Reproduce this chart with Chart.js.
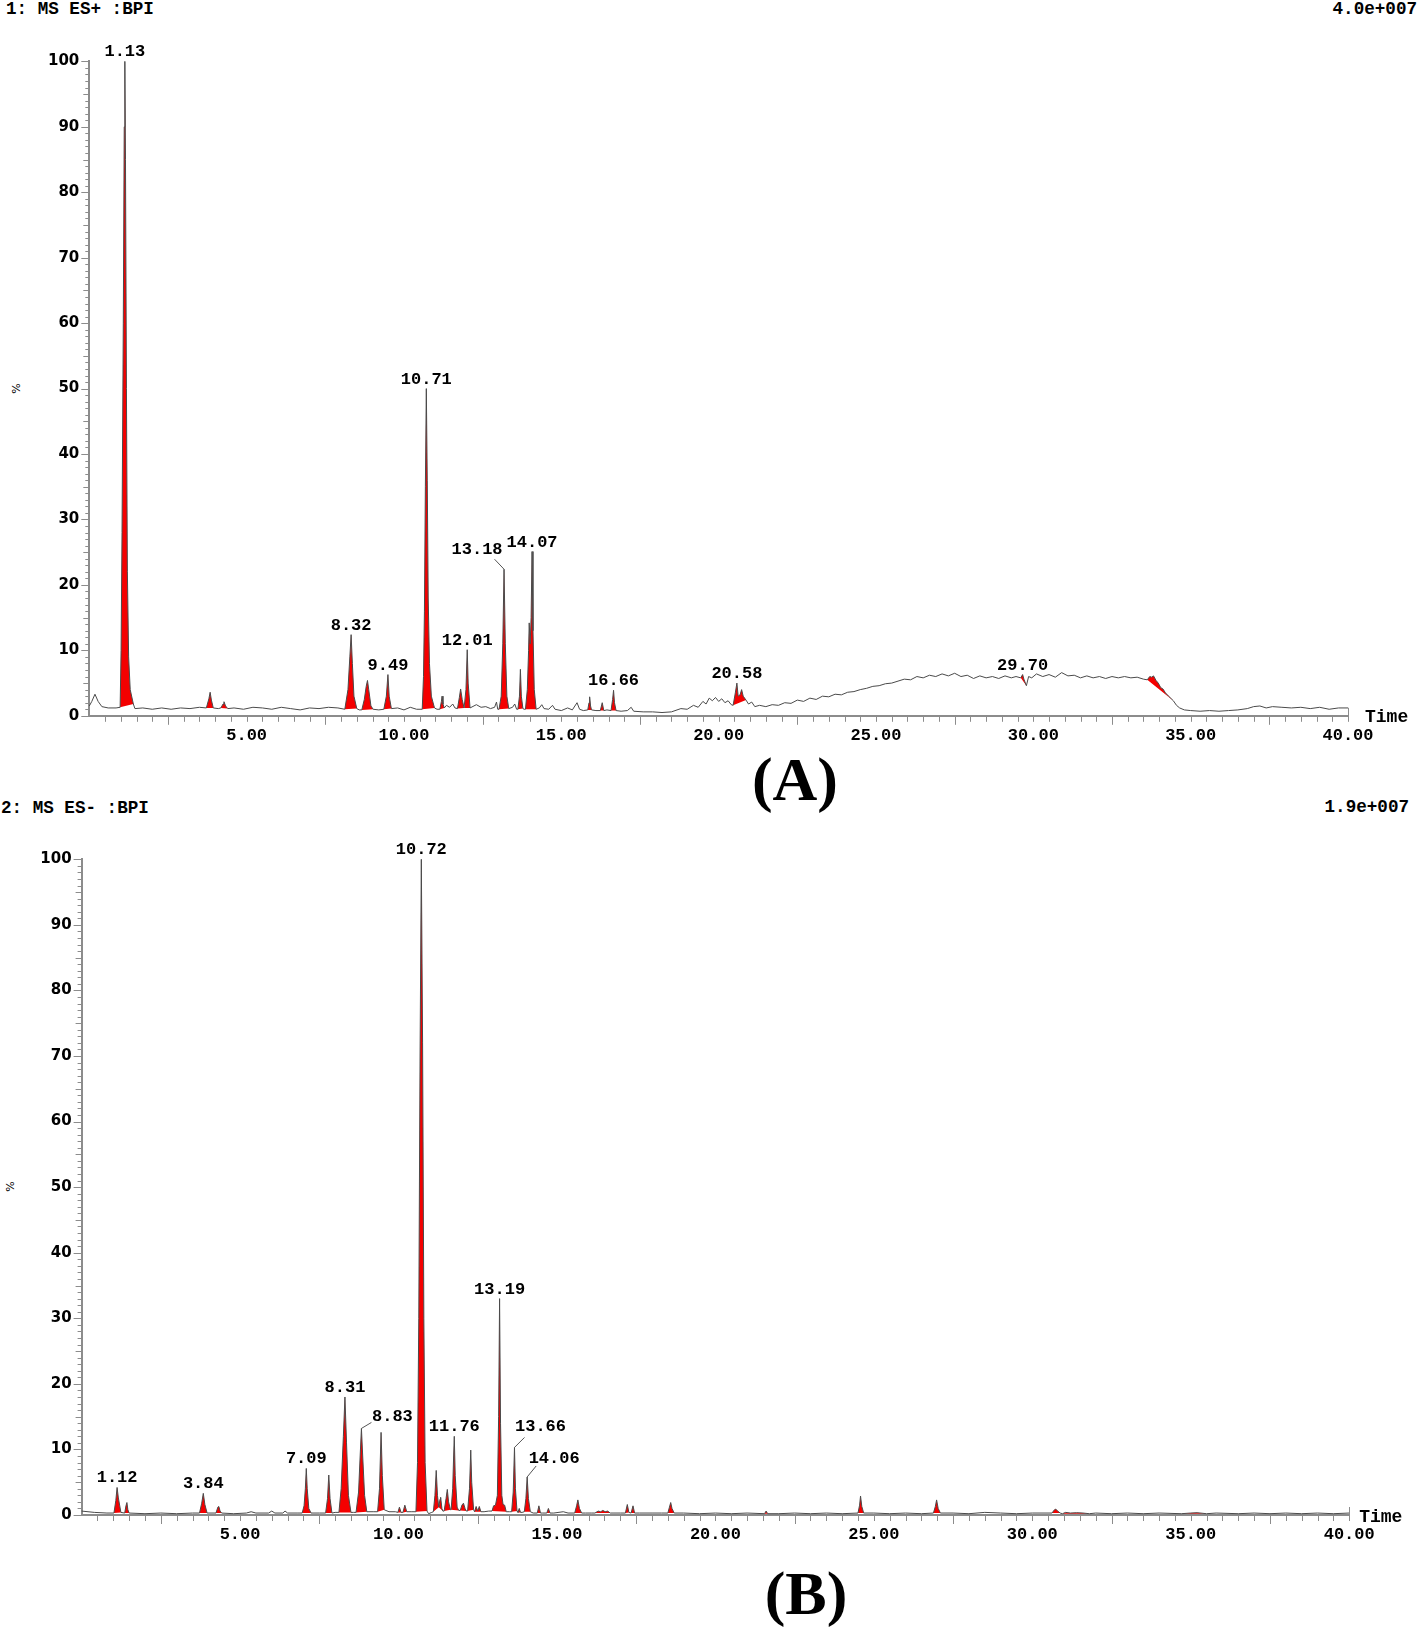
<!DOCTYPE html>
<html>
<head>
<meta charset="utf-8">
<script src="https://cdn.jsdelivr.net/npm/chart.js@4.4.1/dist/chart.umd.min.js"></script>
<style>
  body { margin: 0; background: #fff; width: 1418px; height: 1631px; position: relative; overflow: hidden; }
  canvas { position: absolute; left: 0; }
  .mono { position: absolute; font: bold 17.6px "Liberation Mono", monospace; color: #000; white-space: pre; line-height: 18px; }
  .tag { position: absolute; width: 200px; text-align: center; font: bold 62px "Liberation Serif", serif; line-height: 62px; color: #000; }
  .pct { position: absolute; font: 11px "DejaVu Sans", sans-serif; transform: rotate(-90deg); line-height: 11px; }
</style>
</head>
<body>
<div class="mono" style="left:6px;top:0px">1: MS ES+ :BPI</div>
<div class="mono" style="right:1px;top:0px">4.0e+007</div>
<div class="pct" style="left:11px;top:383px">%</div>
<canvas id="chartA" width="1418" height="760" style="top:0px"></canvas>
<div class="tag" style="left:695px;top:748px">(A)</div>

<div class="mono" style="left:1px;top:799px">2: MS ES- :BPI</div>
<div class="mono" style="right:9px;top:798px">1.9e+007</div>
<div class="pct" style="left:5px;top:1181px">%</div>
<canvas id="chartB" width="1418" height="790" style="top:780px"></canvas>
<div class="tag" style="left:706px;top:1562px">(B)</div>

<script>
// ---- panel A: MS ES+ BPI (time in min, intensity in %) ----
const baseA = [
  [0, 1.5], [0.08, 2.2], [0.18, 3.3], [0.28, 2.2], [0.4, 1.4], [0.6, 1.2], [0.85, 1.2],
  [1.45, 1.1], [1.7, 1.2], [2.0, 1.0], [2.3, 1.2], [2.6, 1.0], [2.9, 1.2], [3.2, 1.1], [3.5, 1.3],
  [4.1, 1.1], [4.6, 1.2], [4.9, 1.0], [5.2, 1.3], [5.5, 1.2], [5.8, 1.0], [6.1, 1.3], [6.4, 1.1],
  [6.7, 0.9], [7.0, 1.2], [7.3, 1.1], [7.6, 1.3], [7.9, 1.2], [8.58, 0.9], [9.2, 0.9],
  [9.8, 1.2], [10.0, 0.9], [10.2, 1.3], [10.4, 1.0], [11.05, 1.0], [11.35, 1.6], [11.45, 1.3],
  [11.55, 1.8], [11.62, 1.2], [12.3, 1.7], [12.45, 1.3], [12.6, 1.4], [12.75, 1.1], [12.88, 1.3],
  [12.94, 2.1], [12.98, 1.0], [13.45, 1.3], [13.52, 1.8], [13.58, 1.0], [13.82, 1.0],
  [14.3, 1.2], [14.38, 1.7], [14.45, 1.1], [14.6, 1.0], [14.72, 1.6], [14.8, 1.0], [15.0, 0.8],
  [15.2, 1.2], [15.35, 0.9], [15.5, 2.0], [15.58, 1.0], [15.7, 0.8], [16.1, 0.8], [16.45, 0.9],
  [16.9, 0.7], [17.1, 0.8], [17.22, 1.3], [17.3, 0.7], [17.6, 0.6], [17.9, 0.6], [18.2, 0.5],
  [18.5, 0.6], [18.8, 1.1], [19.0, 1.0], [19.2, 1.6], [19.35, 1.3], [19.5, 2.2], [19.6, 1.8],
  [19.7, 2.7], [19.8, 2.3], [19.9, 2.8], [20.0, 2.2], [20.1, 2.6], [20.2, 2.0], [20.3, 2.3],
  [20.4, 1.7], [20.95, 1.8], [21.05, 2.1], [21.15, 1.4], [21.3, 1.6], [21.5, 1.4], [21.7, 1.7],
  [21.9, 1.6], [22.1, 2.0], [22.3, 1.9], [22.5, 2.4], [22.7, 2.2], [22.9, 2.7], [23.1, 2.5],
  [23.3, 3.0], [23.5, 2.9], [23.7, 3.3], [23.9, 3.2], [24.1, 3.6], [24.3, 3.7], [24.5, 4.0],
  [24.7, 4.2], [24.9, 4.5], [25.1, 4.6], [25.3, 4.9], [25.5, 5.0], [25.7, 5.3], [25.9, 5.6],
  [26.1, 5.5], [26.3, 6.0], [26.5, 5.8], [26.7, 6.2], [26.9, 6.0], [27.1, 6.4], [27.3, 6.1],
  [27.5, 6.5], [27.7, 6.0], [27.9, 6.2], [28.1, 5.7], [28.3, 6.1], [28.5, 5.8], [28.7, 6.0],
  [28.9, 5.7], [29.1, 6.1], [29.3, 5.8], [29.45, 6.0], [29.85, 6.0], [29.95, 5.8], [30.1, 6.4],
  [30.3, 6.0], [30.5, 6.3], [30.7, 5.9], [30.9, 6.6], [31.1, 6.1], [31.3, 6.2], [31.5, 5.8],
  [31.7, 6.1], [31.9, 5.8], [32.1, 6.0], [32.3, 5.7], [32.5, 6.0], [32.7, 5.8], [32.9, 6.0],
  [33.1, 5.8], [33.3, 5.9], [33.5, 5.6], [34.55, 1.6], [34.65, 1.2], [34.8, 0.9], [35.0, 0.8],
  [35.3, 0.7], [35.6, 0.8], [35.9, 0.7], [36.2, 0.8], [36.5, 0.9], [36.8, 1.1], [37.0, 1.4],
  [37.2, 1.5], [37.4, 1.2], [37.6, 1.4], [37.9, 1.3], [38.2, 1.2], [38.5, 1.3], [38.8, 1.1],
  [39.1, 1.3], [39.4, 1.0], [39.7, 1.2], [40.0, 1.2]
];
// integrated (red) peaks, each drawn as its own closed shape
const peaksA = [
  [[0.98, 1.3], [1.01, 10], [1.04, 28], [1.08, 60], [1.11, 90], [1.13, 100], [1.15, 85], [1.18, 50], [1.21, 22], [1.25, 9], [1.30, 4], [1.40, 1.8]],
  [[3.72, 1.2], [3.80, 2.6], [3.84, 3.6], [3.88, 2.4], [3.94, 1.2]],
  [[4.18, 1.2], [4.25, 1.8], [4.28, 2.15], [4.33, 1.5], [4.40, 1.1]],
  [[8.12, 1.0], [8.22, 4], [8.28, 9], [8.32, 12.4], [8.36, 8], [8.41, 3], [8.50, 1.1]],
  [[8.66, 0.9], [8.74, 2.5], [8.80, 4.5], [8.84, 5.4], [8.88, 4], [8.95, 1.5], [9.02, 1.0]],
  [[9.36, 1.0], [9.44, 3], [9.49, 6.3], [9.53, 3], [9.60, 1.1]],
  [[10.58, 1.0], [10.62, 6], [10.65, 16], [10.68, 35], [10.71, 50], [10.74, 36], [10.77, 18], [10.81, 8], [10.87, 3], [10.97, 1.2]],
  [[11.14, 1.0], [11.19, 2.2], [11.21, 3.0], [11.24, 1.8], [11.28, 1.2]],
  [[11.70, 1.1], [11.76, 2.8], [11.80, 4.1], [11.85, 2.5], [11.91, 1.2]],
  [[11.92, 1.2], [11.97, 4], [12.01, 10.1], [12.04, 5], [12.10, 1.2]],
  [[13.02, 1.0], [13.09, 3], [13.14, 11], [13.18, 22.4], [13.22, 11], [13.27, 3], [13.33, 1.1]],
  [[13.62, 1.0], [13.67, 3], [13.70, 7.1], [13.73, 3], [13.78, 1.1]],
  [[13.86, 1.0], [13.92, 4], [13.96, 10], [13.98, 14.2], [14.01, 11], [14.04, 15], [14.07, 25.1], [14.10, 13], [14.14, 4], [14.20, 1.0]],
  [[15.84, 0.9], [15.88, 2.0], [15.90, 2.9], [15.93, 1.5], [15.96, 0.9]],
  [[16.24, 0.8], [16.30, 2.0], [16.35, 0.8]],
  [[16.58, 0.8], [16.63, 2.5], [16.66, 3.9], [16.69, 2.0], [16.74, 0.8]],
  [[20.46, 1.6], [20.53, 3.5], [20.58, 5.0], [20.62, 3.0], [20.68, 3.2], [20.73, 4.0], [20.78, 3.0], [20.87, 2.4]],
  [[29.60, 5.8], [29.66, 6.3], [29.70, 5.6], [29.78, 4.6]],
  [[33.62, 5.5], [33.70, 6.0], [33.76, 5.9], [33.82, 6.1], [33.90, 5.4], [33.97, 5.0], [34.05, 4.3], [34.12, 4.1], [34.20, 3.5], [34.30, 3.0], [34.45, 2.3]]
];
const labelsA = ['1.13', '8.32', '9.49', '10.71', '12.01', '13.18', '14.07', '16.66', '20.58', '29.70'];

// ---- panel B: MS ES- BPI ----
const baseB = [
  [0, 0.6], [0.4, 0.4], [0.8, 0.3], [1.5, 0.3], [2.0, 0.2], [2.5, 0.3], [3.0, 0.2], [3.5, 0.3],
  [4.8, 0.2], [5.2, 0.3], [5.35, 0.5], [5.5, 0.3], [5.9, 0.3], [6.0, 0.6], [6.1, 0.3], [6.35, 0.3],
  [6.42, 0.6], [6.5, 0.3], [6.8, 0.3], [7.5, 0.3], [8.0, 0.4], [8.58, 0.4], [9.2, 0.5], [9.7, 0.5],
  [9.9, 0.5], [10.4, 0.5], [10.95, 0.2], [11.05, 0.4], [12.16, 0.6], [12.7, 0.5], [12.85, 0.6],
  [13.50, 0.5], [13.90, 0.4], [14.25, 0.3], [14.55, 0.3], [14.9, 0.3], [15.2, 0.5], [15.35, 0.3],
  [15.9, 0.3], [16.1, 0.3], [16.8, 0.3], [17.0, 0.3], [17.6, 0.3], [18.0, 0.3], [18.3, 0.3],
  [19.0, 0.3], [19.5, 0.2], [20.0, 0.3], [20.5, 0.2], [21.0, 0.3], [22.0, 0.2], [22.5, 0.3],
  [23.0, 0.2], [23.5, 0.3], [24.0, 0.2], [25.0, 0.3], [25.5, 0.2], [26.0, 0.3], [26.5, 0.2],
  [27.5, 0.3], [28.0, 0.2], [28.5, 0.4], [29.0, 0.3], [29.5, 0.2], [30.0, 0.3], [32.0, 0.3],
  [32.5, 0.2], [33.0, 0.3], [33.5, 0.2], [34.0, 0.3], [35.8, 0.3], [36.5, 0.2], [37.0, 0.3],
  [37.5, 0.2], [38.0, 0.3], [38.5, 0.2], [39.0, 0.3], [39.5, 0.2], [40.0, 0.3]
];
const peaksB = [
  [[1.02, 0.3], [1.08, 2.2], [1.12, 4.2], [1.16, 2.6], [1.24, 0.4]],
  [[1.36, 0.3], [1.40, 1.4], [1.43, 1.9], [1.46, 0.8], [1.50, 0.3]],
  [[3.72, 0.3], [3.79, 1.8], [3.84, 3.3], [3.89, 1.6], [3.96, 0.3]],
  [[4.24, 0.3], [4.30, 1.2], [4.33, 1.3], [4.37, 0.6], [4.42, 0.3]],
  [[6.96, 0.3], [7.02, 1.4], [7.06, 4], [7.09, 7.1], [7.12, 4], [7.17, 1.0], [7.24, 0.3]],
  [[7.70, 0.3], [7.76, 2.5], [7.80, 6.1], [7.84, 2.5], [7.90, 0.3]],
  [[8.12, 0.4], [8.19, 4], [8.26, 12], [8.31, 18.0], [8.36, 11], [8.42, 3], [8.50, 0.4]],
  [[8.66, 0.4], [8.74, 3.5], [8.79, 9], [8.83, 13.2], [8.87, 9], [8.93, 3], [9.00, 0.5]],
  [[9.34, 0.5], [9.40, 4], [9.45, 12.6], [9.49, 6], [9.55, 0.8]],
  [[9.98, 0.4], [10.03, 1.2], [10.08, 0.4]],
  [[10.14, 0.4], [10.20, 1.5], [10.26, 0.5]],
  [[10.55, 0.5], [10.60, 8], [10.64, 30], [10.68, 70], [10.72, 100], [10.76, 72], [10.80, 30], [10.84, 8], [10.90, 0.6]],
  [[11.10, 0.5], [11.15, 3], [11.19, 6.8], [11.23, 3], [11.27, 1.2]],
  [[11.27, 1.2], [11.31, 2.4], [11.33, 2.7], [11.37, 1.0], [11.40, 0.6]],
  [[11.44, 0.6], [11.50, 2.5], [11.54, 3.9], [11.58, 2.0], [11.64, 0.8]],
  [[11.66, 0.8], [11.71, 4], [11.74, 9], [11.76, 12.0], [11.79, 6], [11.85, 1.2], [11.90, 0.7]],
  [[11.95, 0.7], [12.00, 1.5], [12.05, 1.8], [12.10, 1.0], [12.14, 0.6]],
  [[12.18, 0.6], [12.24, 4], [12.28, 9.9], [12.31, 5], [12.37, 0.8]],
  [[12.40, 0.5], [12.45, 1.3], [12.50, 0.6], [12.55, 1.3], [12.60, 0.5]],
  [[12.95, 0.6], [13.00, 1.4], [13.06, 1.5], [13.12, 3], [13.16, 15], [13.19, 33.0], [13.22, 14], [13.26, 3], [13.30, 1.6], [13.35, 1.5], [13.40, 0.5]],
  [[13.57, 0.5], [13.62, 3.5], [13.66, 10.3], [13.69, 4], [13.74, 0.6]],
  [[13.77, 0.4], [13.81, 1.0], [13.85, 0.4]],
  [[13.97, 0.5], [14.02, 2.5], [14.06, 5.8], [14.10, 2.5], [14.16, 0.5]],
  [[14.38, 0.3], [14.43, 1.4], [14.48, 0.3]],
  [[14.68, 0.3], [14.73, 1.0], [14.78, 0.3]],
  [[15.56, 0.3], [15.62, 1.4], [15.66, 2.3], [15.71, 1.0], [15.78, 0.3]],
  [[16.20, 0.3], [16.30, 0.6], [16.38, 0.5], [16.45, 0.7], [16.52, 0.5], [16.60, 0.6], [16.68, 0.3]],
  [[17.16, 0.3], [17.22, 1.6], [17.27, 0.4]],
  [[17.34, 0.3], [17.40, 1.4], [17.45, 0.3]],
  [[18.50, 0.3], [18.55, 1.2], [18.59, 1.9], [18.63, 1.0], [18.70, 0.3]],
  [[21.55, 0.2], [21.60, 0.6], [21.65, 0.2]],
  [[24.50, 0.3], [24.55, 1.5], [24.58, 2.9], [24.62, 1.3], [24.68, 0.3]],
  [[26.88, 0.3], [26.94, 1.3], [26.98, 2.3], [27.03, 1.0], [27.10, 0.3]],
  [[30.62, 0.3], [30.70, 0.8], [30.74, 0.9], [30.80, 0.6], [30.88, 0.3]],
  [[30.95, 0.2], [31.05, 0.4], [31.20, 0.3], [31.40, 0.35], [31.60, 0.3], [31.80, 0.2]],
  [[34.70, 0.2], [35.00, 0.3], [35.20, 0.35], [35.50, 0.2]]
];
const labelsB = ['1.12', '3.84', '7.09', '8.31', '8.83', '10.72', '11.76', '13.19', '13.66', '14.06'];

// x and y axis ticks
const timeMax = 40;
const timeStep = 5;
const pctStep = 10;

// label placement for peaks whose tag sits off to one side with a leader
const labelShift = {
  '13.18': { dx: -27, dy: -15, lead: [-9.5, -10] },
  '8.83': { dx: 31, dy: -7, lead: [10, -6] },
  '13.66': { dx: 26, dy: -16, lead: [10, -10] },
  '14.06': { dx: 27, dy: -14, lead: [9, -11] }
};

const RED = '#f40000';
const AXIS = '#8c8c8c';
const MONO = '"Liberation Mono", monospace';

function buildTrace(base, peaks) {
  const pts = base.filter(([t]) => !peaks.some(p => t >= p[0][0] && t <= p[p.length - 1][0]));
  peaks.forEach(p => pts.push(...p));
  pts.sort((a, b) => a[0] - b[0]);
  return pts.map(([x, y]) => ({ x, y }));
}

function buildFill(peaks) {
  const out = [];
  peaks.forEach(p => {
    p.forEach(([x, y]) => out.push({ x, y }));
    out.push({ x: p[p.length - 1][0], y: null });
  });
  return out;
}

function apexOf(peaks, label) {
  const t = parseFloat(label);
  const p = peaks.find(pk => t >= pk[0][0] && t <= pk[pk.length - 1][0]);
  return p.reduce((m, q) => (q[1] > m[1] ? q : m));
}

const minorTicks = {
  id: 'minorTicks',
  afterDraw(chart) {
    const { ctx, chartArea: a, scales: { x, y } } = chart;
    ctx.save();
    ctx.strokeStyle = AXIS;
    ctx.lineWidth = 1;
    ctx.beginPath();
    for (let v = 0; v <= 100; v++) {
      const py = Math.round(y.getPixelForValue(v)) + 0.5;
      const len = v % 10 === 0 ? 8 : v % 5 === 0 ? 6 : 4;
      ctx.moveTo(a.left - len, py);
      ctx.lineTo(a.left, py);
    }
    for (let k = 1; k <= timeMax * 2; k++) {
      const px = Math.round(x.getPixelForValue(k / 2)) + 0.5;
      const len = k % 5 === 0 && k % 10 !== 0 ? 9 : 6;
      ctx.moveTo(px, a.bottom);
      ctx.lineTo(px, a.bottom + len);
    }
    // end tick of the time axis points upward
    const pe = Math.round(x.getPixelForValue(timeMax)) + 0.5;
    ctx.moveTo(pe, a.bottom);
    ctx.lineTo(pe, a.bottom - 8);
    ctx.stroke();
    ctx.restore();
  }
};

const peakLabels = {
  id: 'peakLabels',
  afterDatasetsDraw(chart, args, opts) {
    const { ctx, chartArea: a, scales: { x, y } } = chart;
    ctx.save();
    ctx.font = 'bold 17px ' + MONO;
    ctx.fillStyle = '#000';
    ctx.textAlign = 'center';
    ctx.textBaseline = 'alphabetic';
    opts.labels.forEach(lab => {
      const [t, v] = apexOf(opts.peaks, lab);
      const px = x.getPixelForValue(t);
      const py = y.getPixelForValue(v);
      const s = labelShift[lab];
      if (s) {
        ctx.strokeStyle = '#555';
        ctx.lineWidth = 1;
        ctx.beginPath();
        ctx.moveTo(px, py);
        ctx.lineTo(px + s.lead[0], py + s.lead[1]);
        ctx.stroke();
        ctx.fillText(lab, px + s.dx, py + s.dy);
      } else {
        ctx.fillText(lab, px, py - 5);
      }
    });
    ctx.textAlign = 'left';
    ctx.textBaseline = 'middle';
    ctx.font = 'bold 18px ' + MONO;
    ctx.fillText('Time', a.right + opts.timeGap, a.bottom + 2);
    ctx.restore();
  }
};

function makeChart(id, base, peaks, labels, pad, axisW, axisH, timeGap) {
  return new Chart(document.getElementById(id), {
    type: 'line',
    data: {
      datasets: [
        {
          data: buildTrace(base, peaks),
          borderColor: '#4a4a4a',
          borderWidth: 1,
          pointRadius: 0,
          fill: false,
          tension: 0,
          clip: 6
        },
        {
          data: buildFill(peaks),
          borderWidth: 0,
          backgroundColor: RED,
          pointRadius: 0,
          fill: 'shape',
          spanGaps: false,
          tension: 0,
          clip: 6
        }
      ]
    },
    options: {
      responsive: false,
      animation: false,
      events: [],
      layout: { padding: pad },
      plugins: {
        legend: { display: false },
        tooltip: { enabled: false },
        peakLabels: { labels, peaks, timeGap }
      },
      scales: {
        x: {
          type: 'linear',
          min: 0,
          max: timeMax,
          afterFit: s => { s.height = axisH; },
          border: { display: true, color: AXIS, width: 2 },
          grid: { display: true, drawOnChartArea: false, drawTicks: true, tickLength: 8, color: 'rgba(0,0,0,0)' },
          ticks: {
            stepSize: timeStep,
            autoSkip: false,
            maxRotation: 0,
            padding: 2,
            color: '#000',
            font: { family: MONO, weight: 'bold', size: 17 },
            callback: v => (v === 0 ? '' : v.toFixed(2))
          }
        },
        y: {
          type: 'linear',
          min: 0,
          max: 100,
          afterFit: s => { s.width = axisW; },
          border: { display: true, color: AXIS, width: 2 },
          grid: { display: true, drawOnChartArea: false, drawTicks: true, tickLength: 8, color: 'rgba(0,0,0,0)' },
          ticks: {
            stepSize: pctStep,
            autoSkip: false,
            padding: 2,
            color: '#000',
            font: { family: '"DejaVu Sans", sans-serif', weight: 'bold', size: 15 }
          }
        }
      }
    },
    plugins: [minorTicks, peakLabels]
  });
}

makeChart('chartA', baseA, peaksA, labelsA, { top: 61.4, right: 70, bottom: 0, left: 0 }, 89.3, 44.2, 17);
makeChart('chartB', baseB, peaksB, labelsB, { top: 79.3, right: 68.8, bottom: 0, left: 0 }, 81.6, 55, 10);
</script>
</body>
</html>
